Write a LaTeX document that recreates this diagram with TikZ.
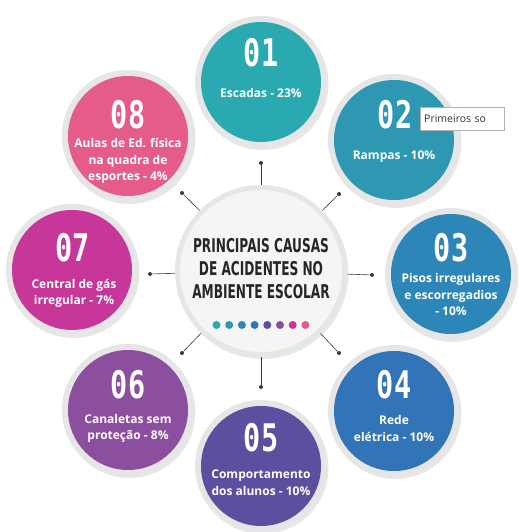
\documentclass[tikz,border=0pt]{standalone}
\usepackage{fontspec}
\setmainfont{Open Sans}
\newfontfamily\zahlfont[FakeStretch=0.75]{DejaVu Sans Mono}
\newfontfamily\titelfont[FakeStretch=0.64]{DejaVu Sans}
\usetikzlibrary{shadows}

\definecolor{farbeA}{HTML}{2BA9B0}
\definecolor{farbeB}{HTML}{2E98B3}
\definecolor{farbeC}{HTML}{2D86B8}
\definecolor{farbeD}{HTML}{3274B8}
\definecolor{farbeE}{HTML}{5C4FA0}
\definecolor{farbeF}{HTML}{8C4F9F}
\definecolor{farbeG}{HTML}{C73699}
\definecolor{farbeH}{HTML}{E45C87}
\definecolor{ringgrau}{HTML}{E6E6E6}
\definecolor{innengrau}{HTML}{F5F5F5}
\definecolor{liniengrau}{HTML}{3A3A3A}

\begin{document}
\begin{tikzpicture}[x=1pt,y=1pt,
    ring/.style={circle, fill=ringgrau, minimum size=132pt, inner sep=0pt,
        drop shadow={shadow xshift=1.5pt, shadow yshift=-2pt, opacity=0.18}},
    kreis/.style={circle, fill=#1, minimum size=120pt, inner sep=0pt},
    zahl/.style={text=white, inner sep=0pt, font=\zahlfont\bfseries\fontsize{38}{38}\selectfont},
    beschr/.style={text=white, align=center, inner sep=0pt, font=\bfseries\fontsize{12}{16.5}\selectfont},
    punkt/.style={circle, fill=liniengrau, inner sep=0pt, minimum size=4pt},
    verbindung/.style={liniengrau, line width=0.6pt},
    farbpunkt/.style={circle, fill=#1, inner sep=0pt, minimum size=8pt}
]
        % Hintergrund
        \fill[white] (0,0) rectangle (520,532);
        \useasboundingbox (0,0) rectangle (520,532);

        % Mittelkreis
        \node[circle, fill=ringgrau, minimum size=172pt, inner sep=0pt,
            drop shadow={shadow xshift=1.5pt, shadow yshift=-2pt, opacity=0.18}] (zentrum) at (261,261) {};
        \node[circle, fill=innengrau, minimum size=162pt, inner sep=0pt] (zentruminnen) at (261,261) {};
        \node[align=center, font=\titelfont\bfseries\fontsize{19}{23}\selectfont, text=black!85] (titel) at (261,263)
            {PRINCIPAIS CAUSAS\\DE ACIDENTES NO\\AMBIENTE ESCOLAR};

        % Farbpunkte
        \node[farbpunkt=farbeA] (fa) at (216.5,207) {};
        \node[farbpunkt=farbeB] (fb) at (229.2,207) {};
        \node[farbpunkt=farbeC] (fc) at (241.9,207) {};
        \node[farbpunkt=farbeD] (fd) at (254.6,207) {};
        \node[farbpunkt=farbeE] (fe) at (267.3,207) {};
        \node[farbpunkt=farbeF] (ff) at (280.0,207) {};
        \node[farbpunkt=farbeG] (fg) at (292.7,207) {};
        \node[farbpunkt=farbeH] (fh) at (305.4,207) {};

        % Verbindungslinien
        \node[punkt] (p1) at (261,369) {};
        \node[punkt] (p2) at (339,338) {};
        \node[punkt] (p3) at (372,257) {};
        \node[punkt] (p4) at (339,179) {};
        \node[punkt] (p5) at (261,145) {};
        \node[punkt] (p6) at (182,179) {};
        \node[punkt] (p7) at (150,258) {};
        \node[punkt] (p8) at (182,339) {};
        \draw[verbindung] (zentrum) -- (p1);
        \draw[verbindung] (zentrum) -- (p2);
        \draw[verbindung] (zentrum) -- (p3);
        \draw[verbindung] (zentrum) -- (p4);
        \draw[verbindung] (zentrum) -- (p5);
        \draw[verbindung] (zentrum) -- (p6);
        \draw[verbindung] (zentrum) -- (p7);
        \draw[verbindung] (zentrum) -- (p8);

        % Kreise aussen
        \node[ring] (c1) at (261,450) {};
        \node[kreis=farbeA] (k1) at (261,450) {};
        \node[ring] (c2) at (394,392) {};
        \node[kreis=farbeB] (k2) at (394,392) {};
        \node[ring] (c3) at (451,258) {};
        \node[kreis=farbeC] (k3) at (451,258) {};
        \node[ring] (c4) at (394,121) {};
        \node[kreis=farbeD] (k4) at (394,121) {};
        \node[ring] (c5) at (261,66) {};
        \node[kreis=farbeE] (k5) at (261,66) {};
        \node[ring] (c6) at (128,122) {};
        \node[kreis=farbeF] (k6) at (128,122) {};
        \node[ring] (c7) at (72,262) {};
        \node[kreis=farbeG] (k7) at (72,262) {};
        \node[ring] (c8) at (128,396) {};
        \node[kreis=farbeH] (k8) at (128,396) {};

        % Nummern
        \node[zahl] (n1) at (261,479) {01};
        \node[zahl] (n2) at (395,417) {02};
        \node[zahl] (n3) at (451,284) {03};
        \node[zahl] (n4) at (394,147) {04};
        \node[zahl] (n5) at (261,94) {05};
        \node[zahl] (n6) at (128,147) {06};
        \node[zahl] (n7) at (73,284) {07};
        \node[zahl] (n8) at (128,417) {08};

        % Beschriftungen
        \node[beschr] (l1) at (261,439) {Escadas - 23\%};
        \node[beschr] (l2) at (394,375) {Rampas - 10\%};
        \node[beschr] (l3) at (451,237) {Pisos irregulares\\e escorregadios\\- 10\%};
        \node[beschr] (l4) at (394,103.5) {Rede\\elétrica - 10\%};
        \node[beschr] (l5) at (261,49.5) {Comportamento\\dos alunos - 10\%};
        \node[beschr] (l6) at (128,103.5) {Canaletas sem\\proteção - 8\%};
        \node[beschr] (l7) at (74,238.5) {Central de gás\\irregular - 7\%};
        \node[beschr] (l8) at (128,371) {Aulas de Ed. física\\na quadra de\\esportes - 4\%};

        % Tooltip
        \node[draw=gray!60, fill=white, rectangle, anchor=west, minimum height=23pt, text width=76pt,
            inner sep=4pt, text=black!80, font=\fontsize{10.5}{12}\selectfont] (tipp) at (420,413.5) {Primeiros so};
\end{tikzpicture}
\end{document}
